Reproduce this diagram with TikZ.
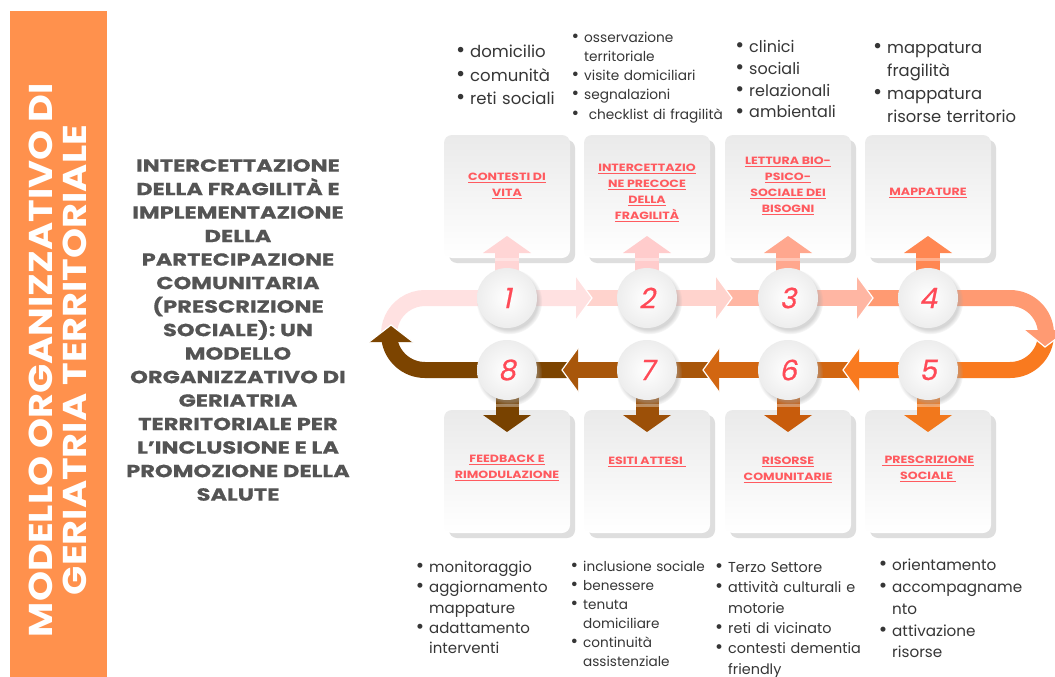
\documentclass[tikz,border=0pt]{standalone}
\usepackage{fontspec}
\setmainfont{Poppins}
\newfontfamily\numfont[FakeSlant=0.2,FakeBold=0.6]{Poppins}
\newfontfamily\titlefont[FakeStretch=1.29,FakeBold=0.5]{Poppins}
\newfontfamily\lblfont[FakeStretch=1.2]{Poppins}
\newfontfamily\vfont[FakeStretch=1.16]{Poppins}
\usepackage{enumitem}
\usetikzlibrary{shadows}
\definecolor{barorange}{HTML}{FF914D}
\definecolor{titlegray}{HTML}{545454}
\definecolor{lblred}{HTML}{FF5A5F}
\definecolor{numred}{HTML}{FF4A57}
\definecolor{txt}{HTML}{363636}
\definecolor{cardtop}{HTML}{EAEAEA}
\definecolor{cardshadow}{HTML}{DEDEDE}
\definecolor{sa}{HTML}{FFE1E1}
\definecolor{sb}{HTML}{FFD3CD}
\definecolor{sc}{HTML}{FFB6A3}
\definecolor{sd}{HTML}{FF9A72}
\definecolor{se}{HTML}{F97A1F}
\definecolor{sf}{HTML}{D26611}
\definecolor{sg}{HTML}{A8560A}
\definecolor{sh}{HTML}{7C4400}
\definecolor{ua}{HTML}{FFD5D5}
\definecolor{ub}{HTML}{FFCCCC}
\definecolor{uc}{HTML}{FFA78E}
\definecolor{ud}{HTML}{FF8752}
\definecolor{de}{HTML}{F2781C}
\definecolor{df}{HTML}{C85C0C}
\definecolor{dg}{HTML}{9C5008}
\definecolor{dh}{HTML}{784200}
\newcommand\hdR[3]{%
  \fill[#1] (#2-16,#3+22) -- (#2,#3) -- (#2-16,#3-22) -- cycle;
  \draw[white,line width=1.2pt] (#2-16,#3+22) -- (#2,#3) -- (#2-16,#3-22);}
\newcommand\hdL[3]{%
  \fill[#1] (#2+16,#3+22) -- (#2,#3) -- (#2+16,#3-22) -- cycle;
  \draw[white,line width=1.2pt] (#2+16,#3+22) -- (#2,#3) -- (#2+16,#3-22);}
\newcommand\uparr[2]{%
  \fill[#1] (#2-12,-288) rectangle (#2+12,-252);
  \fill[#1] (#2-24,-253) -- (#2+24,-253) -- (#2,-236) -- cycle;
  \fill[white,opacity=0.35] (#2-12,-258) rectangle (#2+12,-261);}
\newcommand\dnarr[2]{%
  \fill[#1] (#2-11.5,-380) rectangle (#2+11.5,-416);
  \fill[#1] (#2-24,-415) -- (#2+24,-415) -- (#2,-432) -- cycle;
  \fill[white,opacity=0.35] (#2-11.5,-404) rectangle (#2+11.5,-407);}
\setlist[itemize]{label=\scalebox{1.35}{\textbullet},leftmargin=13pt,labelsep=5pt,itemsep=0pt,topsep=0pt,parsep=0pt,partopsep=0pt}
\tikzset{
  cardnode/.style={rounded corners=8pt,minimum width=126pt,minimum height=123pt,inner sep=0,
    top color=cardtop,bottom color=white,
    drop shadow={shadow xshift=5pt,shadow yshift=-5pt,fill=cardshadow,opacity=1}},
  circ/.style={circle,minimum size=60pt,inner sep=0,inner color=white,outer color=black!7,
    circular drop shadow={shadow xshift=2pt,shadow yshift=-3pt,fill=black!35,opacity=0.45},
    font=\numfont\fontsize{28}{28}\selectfont,text=numred},
  lbl/.style={font=\lblfont\fontsize{10.5}{16}\selectfont\bfseries,text=lblred,align=center,inner sep=0},
  blist/.style={anchor=north west,inner sep=0,text width=190pt,text=txt,align=left},
  band/.style={line width=16pt}
}
\begin{document}
\begin{tikzpicture}[x=1pt,y=1pt]
\useasboundingbox (0,0) rectangle (1055,-677);
\fill[white] (0,0) rectangle (1055,-677);
% left bar
\fill[barorange] (10,-11) rectangle (107,-677);
\node[rotate=90,font=\vfont\fontsize{33}{34}\selectfont\bfseries,text=white,align=center] (vt) at (58,-360)
  {MODELLO ORGANIZZATIVO DI\\GERIATRIA TERRITORIALE};
% title
\node[font=\titlefont\fontsize{17.5}{23.5}\selectfont\bfseries,text=titlegray,align=center] (title) at (238,-330)
  {INTERCETTAZIONE\\DELLA FRAGILITÀ E\\IMPLEMENTAZIONE\\DELLA\\PARTECIPAZIONE\\COMUNITARIA\\(PRESCRIZIONE\\SOCIALE): UN\\MODELLO\\ORGANIZZATIVO DI\\GERIATRIA\\TERRITORIALE PER\\L’INCLUSIONE E LA\\PROMOZIONE DELLA\\SALUTE};
% cards
\node[cardnode] (k1) at (507,-196.5) {};
\node[cardnode] (k2) at (647,-196.5) {};
\node[cardnode] (k3) at (788,-196.5) {};
\node[cardnode] (k4) at (928,-196.5) {};
\node[cardnode] (k8) at (507,-471.5) {};
\node[cardnode] (k7) at (647,-471.5) {};
\node[cardnode] (k6) at (788,-471.5) {};
\node[cardnode] (k5) at (928,-471.5) {};
% vertical arrows
\uparr{ua}{507}\uparr{ub}{647}\uparr{uc}{788}\uparr{ud}{928}
\dnarr{dh}{507}\dnarr{dg}{647}\dnarr{df}{788}\dnarr{de}{928}
% bands
\draw[band,sa] (425,-334) ++(185:36) arc[start angle=185,end angle=90,radius=36] -- (577,-298);
\draw[band,sb] (578,-298) -- (717,-298);
\draw[band,sc] (718,-298) -- (858,-298);
\draw[band,sd] (859,-298) -- (1010,-298) arc[start angle=90,end angle=2,radius=36];
\draw[band,se] (1010,-334) ++(0:36) arc[start angle=0,end angle=-90,radius=36] -- (858,-370);
\draw[band,sf] (857,-370) -- (719,-370);
\draw[band,sg] (717,-370) -- (578,-370);
\draw[band,sh] (576,-370) -- (425,-370) arc[start angle=270,end angle=188,radius=36];
% heads
\hdR{sa}{592}{-298}\hdR{sb}{732}{-298}\hdR{sc}{873}{-298}
\hdL{se}{843}{-370}\hdL{sf}{703}{-370}\hdL{sg}{562}{-370}
\fill[sd] (1024,-330) -- (1068,-330) -- (1045,-347) -- cycle;
\draw[white,line width=1.2pt] (1024,-330) -- (1045,-347) -- (1068,-330);
\fill[sh] (369,-342) -- (413,-342) -- (391,-325) -- cycle;
\draw[white,line width=1.2pt] (369,-342) -- (391,-325) -- (413,-342);
% circles
\node[circ] (n1) at (507,-298) {1};
\node[circ] (n2) at (647,-298) {2};
\node[circ] (n3) at (788,-298) {3};
\node[circ] (n4) at (928,-298) {4};
\node[circ] (n8) at (507,-370) {8};
\node[circ] (n7) at (647,-370) {7};
\node[circ] (n6) at (788,-370) {6};
\node[circ] (n5) at (928,-370) {5};
% card labels
\node[lbl] (l1) at (507,-186) {\underline{CONTESTI DI}\\\underline{VITA}};
\node[lbl] (l2) at (647,-193) {\underline{INTERCETTAZIO}\\\underline{NE PRECOCE}\\\underline{DELLA}\\\underline{FRAGILITÀ}};
\node[lbl] (l3) at (788,-186) {\underline{LETTURA BIO-}\\\underline{PSICO-}\\\underline{SOCIALE DEI}\\\underline{BISOGNI}};
\node[lbl] (l4) at (928,-193) {\underline{MAPPATURE}};
\node[lbl] (l8) at (507,-468) {\underline{FEEDBACK E}\\\underline{RIMODULAZIONE}};
\node[lbl] (l7) at (647,-462) {\underline{ESITI ATTESI\ }};
\node[lbl] (l6) at (788,-470) {\underline{RISORSE}\\\underline{COMUNITARIE}};
\node[lbl] (l5) at (928,-469) {\underline{\ PRESCRIZIONE}\\\underline{SOCIALE\ }};
% lists top
\node[blist,font=\fontsize{16.5}{23.5}\selectfont] (b1) at (457,-34)
  {\begin{itemize}\item domicilio\item comunità\item reti sociali\end{itemize}};
\node[blist,font=\fontsize{13.7}{19.2}\selectfont] (b2) at (570,-23)
  {\begin{itemize}[leftmargin=14pt]\item osservazione\newline territoriale\item visite domiciliari\item segnalazioni\item\ checklist di fragilità\end{itemize}};
\node[blist,font=\fontsize{16}{21.7}\selectfont] (b3) at (736,-31)
  {\begin{itemize}\item clinici\item sociali\item relazionali\item ambientali\end{itemize}};
\node[blist,font=\fontsize{16.4}{23}\selectfont] (b4) at (874,-30)
  {\begin{itemize}\item mappatura\newline fragilità\item mappatura\newline risorse territorio\end{itemize}};
% lists bottom
\node[blist,font=\fontsize{15}{20.3}\selectfont] (b8) at (416,-552)
  {\begin{itemize}\item monitoraggio\item aggiornamento\newline mappature\item adattamento\newline interventi\end{itemize}};
\node[blist,font=\fontsize{13.6}{19}\selectfont] (b7) at (568,-552)
  {\begin{itemize}[leftmargin=15pt]\item inclusione sociale\item benessere\item tenuta\newline domiciliare\item continuità\newline assistenziale\end{itemize}};
\node[blist,font=\fontsize{14.4}{20.3}\selectfont] (b6) at (715,-552)
  {\begin{itemize}\item Terzo Settore\item attività culturali e\newline motorie\item reti di vicinato\item contesti dementia\newline friendly\end{itemize}};
\node[blist,font=\fontsize{15.2}{21.7}\selectfont] (b5) at (879,-549)
  {\begin{itemize}\item orientamento\item accompagname\newline nto\item attivazione\newline risorse\end{itemize}};
\end{tikzpicture}
\end{document}
